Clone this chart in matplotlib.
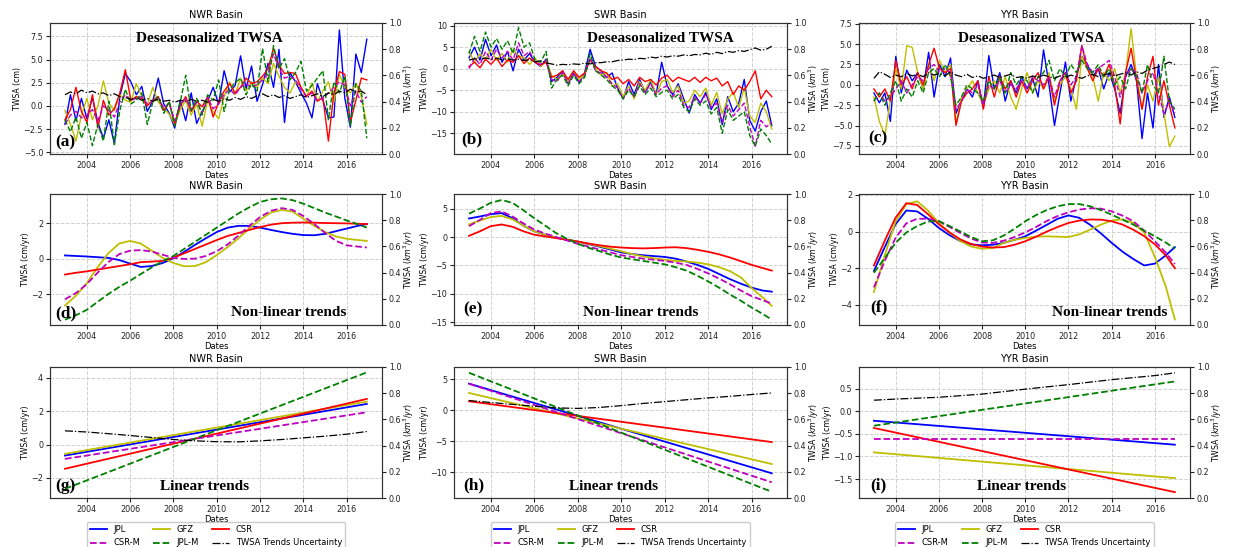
import numpy as np
import matplotlib
matplotlib.use('Agg')
import matplotlib.pyplot as plt
from matplotlib.lines import Line2D

# ---------------- data ----------------
basins = ['NWR Basin', 'SWR Basin', 'YYR Basin']
series_names = ['JPL', 'GFZ', 'CSR', 'CSR-M', 'JPL-M']
unc_name = 'TWSA Trends Uncertainty'

# time axis (decimal years) for deseasonalized TWSA
dates_ts = np.linspace(2003.0, 2016.92, 56)

# --- (a) NWR deseasonalized TWSA (cm)
jpl_a = [-2.0, 1.2, -1.6, 0.8, -1.4, 0.9, -1.8, -3.5,
         -1.5, -4.1, 1.0, 3.5, 2.6, 1.2, 2.1, -0.6,
         0.5, 3.0, 0.2, -0.8, -2.4, 0.6, -1.6, 1.4,
         -1.9, -0.6, 0.5, 2.0, 0.2, 3.8, 1.5, 2.2,
         5.4, 1.8, 4.3, 0.5, 2.3, 4.6, 2.0, 6.1,
         -1.8, 3.6, 2.6, 1.4, 0.3, -1.3, 2.4, 0.6,
         -1.3, -1.2, 8.2, 0.8, -2.3, 5.6, 3.6, 7.2]
gfz_a = [-0.5, -2.0, -3.8, -1.0, 0.8, -1.5, 0.0, 2.7,
         0.3, -0.5, 1.2, 0.6, 0.4, 2.4, 1.0, 0.1,
         2.0, 0.4, -0.3, -0.9, -2.0, -0.4, 0.6, -1.0,
         0.2, -2.2, 0.6, -0.6, -1.4, 1.0, 2.6, 1.2,
         3.0, 1.6, 2.6, 2.0, 3.0, 2.4, 4.6, 3.2,
         2.0, 1.4, 2.6, 2.0, 1.0, 2.5, 0.5, 1.6,
         2.6, 0.4, 3.4, 2.0, 1.4, 2.4, 1.0, -2.0]
csr_a = [-1.5, -0.4, 2.0, -0.6, -1.8, 1.2, -2.4, 0.6,
         -1.0, -0.3, 1.4, 3.9, 0.6, 1.0, 0.8, 0.0,
         0.6, 1.0, -0.5, 0.4, -2.0, 0.0, 1.0, -0.6,
         0.5, -0.1, 1.0, -1.2, 0.4, 1.6, 2.4, 1.4,
         2.0, 3.0, 2.4, 2.6, 3.2, 4.0, 6.2, 4.4,
         3.5, 3.6, 3.5, 2.0, 1.0, 1.6, 0.5, 0.9,
         -3.8, 1.4, 3.7, 3.4, -1.8, 0.6, 3.0, 2.8]
csrm_a = [-2.0, -1.0, -0.6, -1.3, -1.0, -0.4, -1.6, 0.0,
          -0.5, -1.2, 0.4, 1.2, 0.6, 0.8, 1.0, 0.2,
          0.5, 0.8, -0.2, 0.3, -1.6, 0.1, 0.8, -0.4,
          0.4, -0.8, 0.9, -0.3, 0.2, 1.2, 1.8, 1.2,
          2.0, 2.4, 2.0, 2.3, 2.8, 3.4, 5.6, 4.0,
          3.0, 3.2, 2.8, 1.8, 1.0, 1.4, 0.6, 0.8,
          1.4, 2.0, 2.6, 2.2, 0.0, 1.6, 0.4, 1.0]
jplm_a = [-1.5, -2.8, -1.2, -3.5, -1.8, -4.3, -2.0, -3.8,
          0.5, -4.2, -0.5, 1.8, 0.2, 0.6, 1.4, -2.0,
          0.4, 1.0, -0.8, 0.5, -2.2, 0.4, 3.3, -0.5,
          0.8, -1.0, 1.2, 0.6, 2.8, -0.6, 1.8, 2.5,
          3.0, 1.2, 2.4, 1.6, 6.2, 2.6, 6.5, 4.0,
          5.1, 2.8, 3.6, 4.8, 1.6, 2.2, 3.0, 3.8,
          -1.5, 2.6, 1.4, 3.2, -2.2, 2.4, 1.6, -3.5]
unc_a = [1.2, 1.5, 1.3, 1.7, 1.4, 1.6, 1.3, 1.4,
         1.1, 1.3, 1.0, 0.9, 0.7, 0.9, 0.6, 0.8,
         0.5, 0.7, 0.5, 0.6, 0.4, 0.6, 0.5, 0.7,
         0.5, 0.6, 0.4, 0.7, 0.5, 0.8, 0.6, 0.9,
         0.7, 1.0, 0.8, 1.1, 1.3, 1.0, 1.2, 0.9,
         1.1, 0.8, 1.0, 1.2, 0.9, 1.1, 1.3, 1.0,
         1.4, 1.2, 1.6, 1.4, 1.8, 1.5, 1.6, 1.2]

# --- (b) SWR deseasonalized TWSA (cm)
jpl_b = [2.5, 5.0, 2.0, 6.8, 3.0, 5.5, 1.5, 4.0,
         -0.5, 4.5, 2.0, 3.5, 1.5, 0.5, 2.2, -3.0,
         -2.0, -0.5, -3.5, -1.0, -3.2, -1.0, 4.5, 0.5,
         -0.5, -2.0, -1.0, -4.5, -7.0, -3.0, -6.0, -2.5,
         -5.5, -3.0, -6.0, 1.5, -4.0, -6.0, -3.5, -7.0,
         -10.3, -6.0, -8.0, -5.5, -9.5, -7.0, -13.0, -6.5,
         -10.0, -8.0, -2.5, -12.0, -14.5, -10.0, -7.5, -13.2]
gfz_b = [4.0, 1.5, 3.5, 2.0, 4.5, 2.0, 3.5, 1.5,
         4.5, 3.0, 2.5, 1.0, 2.5, 0.5, 1.8, -1.5,
         -2.5, -1.0, -3.0, -0.5, -2.5, -1.5, 2.5, 0.0,
         -1.5, -1.0, -4.0, -3.5, -6.5, -4.0, -7.0, -3.0,
         -5.0, -2.5, -6.0, -3.0, -2.5, -5.5, -4.0, -8.0,
         -7.5, -5.0, -6.5, -4.5, -8.5, -5.5, -10.5, -7.0,
         -5.5, -9.0, -4.5, -11.0, -12.5, -8.0, -10.0, -14.0]
csr_b = [0.5, 1.5, 0.2, 2.2, 1.0, 2.5, 0.5, 2.0,
         1.5, 3.0, 1.2, 2.5, 1.5, 0.8, 1.5, -2.0,
         -1.5, -0.5, -2.5, -0.5, -2.0, -1.0, 2.0, 0.5,
         -0.5, -1.0, -2.5, -2.0, -3.5, -2.5, -4.0, -2.0,
         -3.0, -2.5, -3.8, -2.2, -1.5, -3.0, -2.0, -2.5,
         -3.0, -2.0, -3.2, -2.0, -2.8, -2.2, -4.0, -3.0,
         -6.0, -4.0, -5.0, -3.0, -0.5, -7.0, -5.0, -6.5]
csrm_b = [0.0, 2.5, 1.0, 4.0, 2.0, 4.5, 2.5, 4.0,
          2.0, 6.0, 3.0, 4.0, 1.5, 1.0, 2.0, -2.5,
          -3.0, -0.8, -3.5, -1.0, -3.0, -1.8, 2.5, -0.5,
          -1.0, -2.0, -3.5, -4.5, -7.0, -4.5, -6.5, -3.5,
          -5.5, -3.5, -6.0, -4.5, -4.0, -6.5, -5.0, -8.5,
          -9.0, -6.5, -8.0, -6.0, -9.0, -8.0, -12.5, -8.5,
          -11.0, -9.5, -8.0, -13.5, -18.0, -12.0, -13.5, -12.5]
jplm_b = [3.5, 7.5, 4.0, 8.5, 5.0, 7.0, 4.5, 6.5,
          3.5, 9.5, 5.0, 6.0, 2.0, 1.5, 4.0, -4.5,
          -2.5, -1.5, -4.0, -1.5, -3.5, -2.0, 3.5, -0.5,
          -1.5, -2.5, -4.0, -5.0, -7.0, -5.0, -6.5, -4.0,
          -6.0, -4.5, -6.5, -5.5, -5.0, -7.0, -6.0, -9.0,
          -10.0, -7.0, -8.5, -7.5, -10.5, -9.0, -15.0, -9.5,
          -12.0, -11.0, -10.0, -15.5, -18.0, -14.0, -15.5, -17.5]
unc_b = [2.0, 2.3, 2.1, 2.5, 2.2, 2.4, 2.1, 2.3,
         2.0, 2.2, 1.9, 2.1, 1.6, 1.8, 1.3, 1.1,
         0.8, 1.0, 0.9, 1.1, 1.0, 1.3, 1.1, 1.4,
         1.4, 1.6, 1.6, 1.9, 2.0, 2.2, 2.1, 2.4,
         2.3, 2.7, 2.5, 2.9, 2.7, 3.0, 2.9, 3.2,
         3.0, 3.3, 3.2, 3.6, 3.3, 3.8, 3.5, 4.0,
         3.8, 4.2, 4.0, 4.4, 4.8, 4.3, 4.5, 5.2]

# --- (c) YYR deseasonalized TWSA (cm)
jpl_c = [-1.0, -2.2, -1.0, -4.5, 3.5, -1.0, 1.8, 0.5,
         1.5, -0.5, 4.0, -1.5, 2.5, 1.0, 3.3, -3.5,
         -2.0, -0.5, -1.5, 0.5, -2.8, 3.6, -0.5, 1.5,
         -2.0, 0.5, -1.0, 1.0, -0.5, 0.8, -1.5, 4.3,
         0.0, -5.0, -1.0, 2.8, -2.0, 1.0, 3.5, 2.5,
         1.0, 2.0, -0.5, 1.5, -0.5, -3.5, 1.0, 2.5,
         0.5, -6.6, -1.0, -5.3, 2.5, -4.0, -1.5, -4.0]
gfz_c = [-1.5, -4.5, -6.2, -2.0, 2.0, -0.5, 4.8, 4.6,
         1.5, -0.5, 2.5, 0.5, 3.0, 1.5, 2.5, -4.8,
         -1.5, -0.5, 0.5, -1.0, -2.5, -0.5, 0.5, -1.0,
         1.0, -1.5, -3.0, -0.5, 1.5, -1.0, 0.5, -0.5,
         1.5, -2.0, 0.0, 1.0, -0.5, -3.0, 3.5, 2.0,
         1.0, -2.0, 1.5, 0.5, 2.0, -1.0, 1.5, 6.9,
         1.0, -3.0, 0.0, -2.0, 1.0, -3.5, -7.6, -6.3]
csr_c = [-0.5, -1.5, -0.5, -2.0, 3.0, 0.0, 1.0, -0.5,
         1.5, 0.0, 2.5, 4.5, 2.0, 1.5, 2.0, -5.0,
         -2.0, -1.0, -0.5, 0.5, -3.0, 1.0, -1.5, 1.0,
         -0.5, 0.5, -1.5, 0.5, -1.0, 0.5, 1.5, -0.5,
         1.0, -2.5, 0.5, 1.5, -1.0, 0.5, 4.8, 2.0,
         0.5, 2.0, 1.0, 2.5, 0.0, -4.8, 1.5, 4.5,
         0.5, -3.0, 1.0, 3.5, -2.5, 0.5, -2.5, -5.3]
csrm_c = [-2.0, -1.0, -2.0, -1.5, -0.5, 0.5, -1.0, 0.0,
          1.0, 0.5, 2.0, 2.5, 1.5, 2.0, 1.5, -3.0,
          -2.0, -0.5, -1.0, 0.0, -2.5, 0.0, -0.5, 0.5,
          -1.0, 0.0, -0.5, 0.5, -0.5, 1.0, 0.5, 0.0,
          1.0, -1.5, 0.5, 1.5, 0.0, 1.0, 4.8, 2.5,
          1.5, 2.0, 2.5, 3.0, 1.0, -1.5, 1.0, 2.0,
          1.5, -1.0, 0.5, 1.5, -1.0, -3.5, -2.0, -3.5]
jplm_c = [-2.0, -1.0, -2.5, -1.0, 0.5, -2.0, -0.5, -1.5,
          0.5, -1.0, 1.5, 2.0, 1.0, 2.5, 1.0, -2.5,
          -1.5, 0.0, -0.5, -1.0, -2.0, 0.5, -0.5, 1.0,
          -1.0, 1.5, 0.0, 1.0, 0.5, -1.0, 1.0, 1.5,
          3.0, 0.5, 2.0, 1.0, 2.5, 1.5, 3.0, 2.0,
          1.5, 2.5, 1.0, 2.0, 0.0, 1.0, -0.5, 2.0,
          1.0, -1.0, 2.5, 0.0, -1.0, 3.5, -2.0, -3.0]
unc_c = [0.8, 1.6, 1.3, 0.9, 1.2, 1.0, 1.4, 1.1,
         1.3, 1.0, 1.5, 1.2, 1.4, 1.1, 1.6, 1.2,
         1.0, 1.3, 0.9, 1.1, 0.8, 1.0, 1.2, 0.9,
         1.1, 1.3, 0.9, 1.0, 0.8, 1.1, 0.9, 1.2,
         1.0, 0.8, 1.1, 0.9, 1.2, 1.0, 0.8, 1.1,
         1.3, 1.0, 1.2, 1.4, 1.1, 1.3, 1.5, 1.2,
         1.6, 1.4, 1.8, 2.0, 2.2, 2.5, 2.8, 2.5]

# time axis for non-linear trends
dates_nl = np.r_[np.arange(2003.0, 2016.51, 0.5), 2016.92]

# --- (d) NWR non-linear trends (cm/yr)
jpl_d = [0.18, 0.15, 0.12, 0.08, 0.04, -0.08, -0.28, -0.47,
         -0.42, -0.25, 0.02, 0.38, 0.78, 1.15, 1.5, 1.75,
         1.85, 1.85, 1.75, 1.62, 1.5, 1.4, 1.33, 1.32,
         1.4, 1.55, 1.7, 1.85, 1.95]
gfz_d = [-2.65, -2.1, -1.4, -0.5, 0.3, 0.85, 1.0, 0.85,
         0.45, 0.05, -0.25, -0.43, -0.42, -0.2, 0.2, 0.65,
         1.15, 1.7, 2.2, 2.6, 2.75, 2.65, 2.25, 1.85,
         1.5, 1.25, 1.12, 1.05, 1.0]
csr_d = [-0.9, -0.8, -0.72, -0.62, -0.52, -0.42, -0.32, -0.2,
         -0.17, -0.13, 0.05, 0.3, 0.55, 0.8, 1.05, 1.28,
         1.45, 1.62, 1.78, 1.92, 2.0, 2.03, 2.04, 2.03,
         2.01, 2.0, 1.99, 1.97, 1.95]
csrm_d = [-2.3, -1.95, -1.45, -0.8, -0.2, 0.25, 0.45, 0.48,
          0.4, 0.22, 0.05, -0.02, 0.0, 0.15, 0.42, 0.8,
          1.3, 1.85, 2.35, 2.7, 2.85, 2.75, 2.4, 1.95,
          1.45, 1.0, 0.75, 0.68, 0.63]
jplm_d = [-3.45, -3.2, -2.9, -2.45, -2.0, -1.6, -1.25, -0.87,
          -0.5, -0.15, 0.15, 0.55, 0.95, 1.35, 1.75, 2.15,
          2.55, 2.9, 3.2, 3.35, 3.4, 3.3, 3.1, 2.85,
          2.6, 2.38, 2.15, 1.95, 1.75]

# --- (e) SWR non-linear trends (cm/yr)
jpl_e = [3.25, 3.6, 4.0, 4.2, 3.3, 2.0, 1.0, 0.4,
         -0.1, -0.45, -0.8, -1.25, -1.7, -2.2, -2.7, -3.0,
         -3.2, -3.35, -3.5, -3.8, -4.3, -4.9, -5.6, -6.5,
         -7.4, -8.2, -8.9, -9.4, -9.6]
gfz_e = [2.2, 2.9, 3.5, 3.7, 3.1, 2.0, 1.0, 0.4,
         -0.1, -0.45, -0.8, -1.2, -1.6, -2.05, -2.5, -3.0,
         -3.4, -3.75, -4.0, -4.2, -4.3, -4.5, -4.8, -5.3,
         -6.0, -7.1, -9.0, -10.6, -12.1]
csr_e = [0.2, 1.0, 1.9, 2.2, 1.8, 1.0, 0.4, 0.1,
         -0.2, -0.5, -0.8, -1.15, -1.45, -1.7, -1.85, -1.95,
         -2.0, -1.95, -1.85, -1.8, -1.95, -2.25, -2.6, -3.05,
         -3.6, -4.25, -4.9, -5.45, -5.9]
csrm_e = [1.9, 3.0, 4.2, 4.5, 3.6, 2.4, 1.3, 0.6,
          0.0, -0.6, -1.2, -1.7, -2.2, -2.7, -3.2, -3.5,
          -3.8, -4.0, -4.2, -4.5, -4.9, -5.6, -6.4, -7.3,
          -8.3, -9.4, -10.4, -11.1, -11.7]
jplm_e = [4.1, 5.0, 6.0, 6.5, 6.0, 4.7, 3.3, 2.0,
          0.7, -0.3, -1.2, -1.9, -2.5, -3.1, -3.6, -3.9,
          -4.2, -4.5, -4.8, -5.3, -5.9, -6.8, -7.8, -8.9,
          -10.1, -11.2, -12.4, -13.5, -14.5]

# --- (f) YYR non-linear trends (cm/yr)
jpl_f = [-2.15, -0.85, 0.4, 1.15, 1.1, 0.7, 0.2, -0.2,
         -0.52, -0.7, -0.75, -0.72, -0.62, -0.45, -0.26, 0.05,
         0.37, 0.7, 0.88, 0.75, 0.37, -0.1, -0.62, -1.1,
         -1.5, -1.85, -1.75, -1.3, -0.85]
gfz_f = [-3.3, -1.3, 0.55, 1.5, 1.65, 1.15, 0.47, -0.05,
         -0.52, -0.82, -0.94, -0.9, -0.62, -0.45, -0.35, -0.28,
         -0.26, -0.28, -0.3, -0.15, 0.1, 0.38, 0.6, 0.67,
         0.47, -0.05, -1.4, -3.0, -4.8]
csr_f = [-1.85, -0.5, 0.75, 1.55, 1.45, 0.95, 0.4, -0.05,
         -0.43, -0.68, -0.82, -0.87, -0.85, -0.72, -0.53, -0.28,
         0.0, 0.25, 0.47, 0.6, 0.66, 0.65, 0.56, 0.38,
         0.1, -0.25, -0.7, -1.3, -2.0]
csrm_f = [-3.05, -1.6, -0.35, 0.45, 0.7, 0.7, 0.56, 0.25,
          -0.08, -0.38, -0.6, -0.62, -0.5, -0.3, -0.05, 0.25,
          0.58, 0.85, 1.05, 1.2, 1.27, 1.25, 1.1, 0.87,
          0.56, 0.05, -0.53, -1.15, -1.77]
jplm_f = [-2.25, -1.45, -0.62, -0.05, 0.3, 0.55, 0.57, 0.3,
          0.0, -0.3, -0.53, -0.48, -0.22, 0.15, 0.56, 0.9,
          1.18, 1.38, 1.5, 1.5, 1.38, 1.17, 0.92, 0.65,
          0.38, 0.05, -0.26, -0.6, -0.93]

# linear trends: values at start and end dates
dates_lin = [2003.0, 2016.92]
jpl_g, gfz_g, csr_g = [-0.66, 2.43], [-0.56, 2.57], [-1.45, 2.73]
csrm_g, jplm_g = [-0.86, 1.93], [-2.65, 4.32]
jpl_h, gfz_h, csr_h = [4.3, -10.2], [2.8, -8.7], [1.46, -5.15]
csrm_h, jplm_h = [4.3, -11.65], [6.07, -13.2]
jpl_i, gfz_i, csr_i = [-0.21, -0.74], [-0.91, -1.48], [-0.37, -1.79]
csrm_i, jplm_i = [-0.605, -0.605], [-0.32, 0.66]

# trend uncertainty (yearly)
dates_unc = np.r_[np.arange(2003.0, 2016.5, 1.0), 2016.92]
unc_g = [0.82, 0.75, 0.65, 0.54, 0.42, 0.3, 0.22, 0.17, 0.16, 0.22,
         0.3, 0.4, 0.5, 0.62, 0.78]
unc_h = [1.57, 1.25, 0.95, 0.65, 0.38, 0.3, 0.45, 0.75, 1.1, 1.4,
         1.7, 2.0, 2.25, 2.55, 2.8]
unc_i = [0.245, 0.27, 0.29, 0.31, 0.345, 0.38, 0.435, 0.49, 0.54, 0.59,
         0.645, 0.7, 0.745, 0.79, 0.85]

# ---------------- styling ----------------
colors = {'JPL': 'b', 'GFZ': 'y', 'CSR': 'r', 'CSR-M': 'm', 'JPL-M': 'g'}
styles = {'JPL': '-', 'GFZ': '-', 'CSR': '-', 'CSR-M': '--', 'JPL-M': '--'}

panels = [
    # row 0
    dict(x=dates_ts, s=[jpl_a, gfz_a, csr_a, csrm_a, jplm_a], ux=dates_ts, u=unc_a,
         ylim=(-5.2, 8.95), yt=[-5, -2.5, 0, 2.5, 5, 7.5], lab='(a)', lp=(0.015, 0.085),
         txt='Deseasonalized TWSA', tp=(0.48, 0.883), lw=1.0),
    dict(x=dates_ts, s=[jpl_b, gfz_b, csr_b, csrm_b, jplm_b], ux=dates_ts, u=unc_b,
         ylim=(-19.8, 10.6), yt=[-15, -10, -5, 0, 5, 10], lab='(b)', lp=(0.023, 0.115),
         txt='Deseasonalized TWSA', tp=(0.62, 0.883), lw=1.0),
    dict(x=dates_ts, s=[jpl_c, gfz_c, csr_c, csrm_c, jplm_c], ux=dates_ts, u=unc_c,
         ylim=(-8.5, 7.6), yt=[-7.5, -5, -2.5, 0, 2.5, 5, 7.5], lab='(c)', lp=(0.027, 0.12),
         txt='Deseasonalized TWSA', tp=(0.52, 0.885), lw=1.0),
    # row 1
    dict(x=dates_nl, s=[jpl_d, gfz_d, csr_d, csrm_d, jplm_d], ux=None, u=None,
         ylim=(-3.75, 3.65), yt=[-2, 0, 2], lab='(d)', lp=(0.015, 0.09),
         txt='Non-linear trends', tp=(0.72, 0.097), lw=1.3),
    dict(x=dates_nl, s=[jpl_e, gfz_e, csr_e, csrm_e, jplm_e], ux=None, u=None,
         ylim=(-15.45, 7.55), yt=[-15, -10, -5, 0, 5], lab='(e)', lp=(0.027, 0.12),
         txt='Non-linear trends', tp=(0.56, 0.097), lw=1.3),
    dict(x=dates_nl, s=[jpl_f, gfz_f, csr_f, csrm_f, jplm_f], ux=None, u=None,
         ylim=(-5.1, 2.05), yt=[-4, -2, 0, 2], lab='(f)', lp=(0.033, 0.135),
         txt='Non-linear trends', tp=(0.757, 0.097), lw=1.3),
    # row 2
    dict(x=dates_lin, s=[jpl_g, gfz_g, csr_g, csrm_g, jplm_g], ux=dates_unc, u=unc_g,
         ylim=(-3.2, 4.64), yt=[-2, 0, 2, 4], lab='(g)', lp=(0.015, 0.09),
         txt='Linear trends', tp=(0.466, 0.086), lw=1.3),
    dict(x=dates_lin, s=[jpl_h, gfz_h, csr_h, csrm_h, jplm_h], ux=dates_unc, u=unc_h,
         ylim=(-14.2, 7.0), yt=[-10, -5, 0, 5], lab='(h)', lp=(0.027, 0.1),
         txt='Linear trends', tp=(0.48, 0.086), lw=1.3),
    dict(x=dates_lin, s=[jpl_i, gfz_i, csr_i, csrm_i, jplm_i], ux=dates_unc, u=unc_i,
         ylim=(-1.92, 0.98), yt=[-1.5, -1.0, -0.5, 0.0, 0.5], lab='(i)', lp=(0.033, 0.1),
         txt='Linear trends', tp=(0.49, 0.086), lw=1.3),
]

W, H = 1234, 547
col_px = [(50, 382), (454, 787), (859, 1190)]
row_px = [(23, 154), (194, 325), (367, 498)]
left_labels = ['TWSA (cm)', 'TWSA (cm/yr)', 'TWSA (cm/yr)']
right_labels = ['TWSA ($km^3$)', 'TWSA ($km^3/yr$)', 'TWSA ($km^3/yr$)']
serif = ['Liberation Serif', 'DejaVu Serif']

plt.rcParams['font.family'] = 'DejaVu Sans'
plt.rcParams['axes.edgecolor'] = '#333333'
fig = plt.figure(figsize=(W / 100, H / 100), dpi=100)

for idx, p in enumerate(panels):
    r, c = divmod(idx, 3)
    (x0, x1), (y0, y1) = col_px[c], row_px[r]
    ax = fig.add_axes([x0 / W, 1 - y1 / H, (x1 - x0) / W, (y1 - y0) / H])
    ax.grid(True, ls='--', color='#d0d0d0', lw=0.7)
    ax.set_axisbelow(True)
    handles = {}
    for name, vals in zip(series_names, p['s']):
        h, = ax.plot(p['x'], vals, color=colors[name], ls=styles[name], lw=p['lw'],
                     label=name)
        handles[name] = h
    if p['u'] is not None:
        hu, = ax.plot(p['ux'], p['u'], color='k', ls='-.', lw=0.9, label=unc_name)
    else:
        hu = Line2D([], [], color='k', ls='-.', lw=0.9)
    ax.set_xlim(2002.31, 2017.62)
    ax.set_xticks([2004, 2006, 2008, 2010, 2012, 2014, 2016])
    ax.set_ylim(*p['ylim'])
    ax.set_yticks(p['yt'])
    ax.tick_params(labelsize=5.8, length=3, pad=2, colors='#222222')
    ax.set_title(basins[c], fontsize=7, pad=3.5)
    ax.set_xlabel('Dates', fontsize=6, labelpad=1)
    ax.set_ylabel(left_labels[r], fontsize=5.6, labelpad=0.8)
    ax.text(p['lp'][0], p['lp'][1], p['lab'], transform=ax.transAxes, ha='left',
            va='center', fontsize=12.5, fontweight='bold', family=serif)
    ax.text(p['tp'][0], p['tp'][1], p['txt'], transform=ax.transAxes, ha='center',
            va='center', fontsize=11, fontweight='bold', family=serif)

    ax2 = ax.twinx()
    ax2.set_ylim(0, 1)
    ax2.set_yticks([0.0, 0.2, 0.4, 0.6, 0.8, 1.0])
    ax2.tick_params(labelsize=5.8, length=3, pad=2, colors='#222222')
    ax2.set_ylabel(right_labels[r], fontsize=5.6, labelpad=0.3)

    if r == 2:
        hl = [handles['JPL'], handles['CSR-M'], handles['GFZ'], handles['JPL-M'],
              handles['CSR'], hu]
        ll = ['JPL', 'CSR-M', 'GFZ', 'JPL-M', 'CSR', unc_name]
        ax.legend(hl, ll, loc='upper center', bbox_to_anchor=(0.5, -0.183), ncol=3,
                  fontsize=6, handlelength=2.0, columnspacing=1.6, labelspacing=0.5,
                  borderaxespad=0, framealpha=1, edgecolor='#cccccc')

fig.savefig('out.png', dpi=100)
